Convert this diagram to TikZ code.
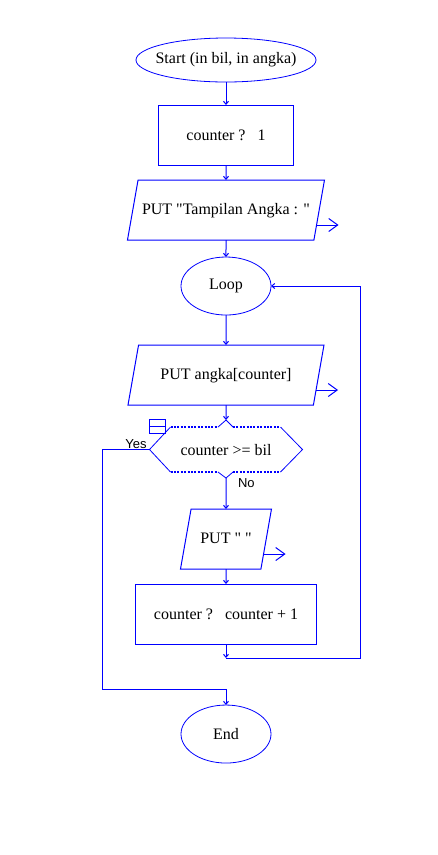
\documentclass[tikz,border=0pt]{standalone}
\usepackage{fontspec}
\setmainfont{Liberation Serif}[Ligatures=TeXOff]
\newfontfamily\branchfont{Liberation Sans}
\usetikzlibrary{arrows.meta,positioning,shapes.geometric,calc}

\tikzset{
  every node/.style={font=\fontsize{16}{19}\selectfont, outer sep=0pt},
  terminal/.style={ellipse, draw=blue, line width=0.8pt, inner sep=0pt,
    minimum width=90pt, minimum height=58pt},
  process/.style={rectangle, draw=blue, line width=1pt,
    minimum width=135pt, minimum height=60pt},
  inout/.style={trapezium, trapezium left angle=80, trapezium right angle=100,
    trapezium stretches body, draw=blue, line width=1pt,
    text height=12pt, text depth=4pt, inner ysep=22pt},
  hexside/.style={draw=blue, line width=0.8pt},
  hexdots/.style={draw=blue, line width=2pt, dash pattern=on 2pt off 1.4pt},
  flow/.style={draw=blue, line width=1pt, -{Straight Barb[length=3pt,width=5pt]}},
  output/.style={draw=blue, line width=1pt, -{Straight Barb[length=9pt,width=13pt]}},
  branch/.style={font=\branchfont\fontsize{13}{15}\selectfont, inner sep=0pt}
}

\begin{document}
\begin{tikzpicture}[x=1pt, y=1pt, node distance=15pt]
 \useasboundingbox (0,0) rectangle (438,-855);

 \node[terminal, minimum width=180pt, minimum height=44pt] (start) at (226,-60)
     {\makebox[0pt]{Start (in bil, in angka)}};
 \node[process, below=23pt of start] (init) {counter ?\ \ \ 1};
 \node[inout, minimum width=197pt, below=of init] (title) {PUT "Tampilan Angka : "};
 \node[terminal, below=17pt of title] (loop) {Loop};
 \node[inout, minimum width=196pt, below=30pt of loop] (show) {PUT angka[counter]};
 \node[minimum width=153pt, minimum height=45pt, inner sep=0pt, below=22pt of show]
     (check) {counter >= bil};
 \node[inout, minimum width=91pt, below=37pt of check] (space) {PUT " "};
 \node[process, minimum width=181pt, below=of space] (next) {counter ?\ \ \ counter + 1};
 \node[terminal, below=61pt of next] (end) {End};

 % decision outline
 \draw[hexside] ($(check.north west)+(21,0)$) -- (check.west) -- ($(check.south west)+(21,0)$);
 \draw[hexside] ($(check.north east)+(-22,0)$) -- (check.east) -- ($(check.south east)+(-22,0)$);
 \coordinate (checkin) at ($(check.north)+(0,7)$);
 \coordinate (checkout) at ($(check.south)+(0,-6)$);
 \draw[hexdots] ($(check.north west)+(21,0)$) -- ($(check.north)+(-8,0)$);
 \draw[hexdots] ($(check.north)+(7,0)$) -- ($(check.north east)+(-22,0)$);
 \draw[hexside] ($(check.north)+(-8,0)$) -- (checkin) -- ($(check.north)+(7,0)$);
 \draw[hexdots] ($(check.south west)+(21,0)$) -- ($(check.south)+(-8,0)$);
 \draw[hexdots] ($(check.south)+(7,0)$) -- ($(check.south east)+(-22,0)$);
 \draw[hexside] ($(check.south)+(-8,0)$) -- (checkout) -- ($(check.south)+(7,0)$);
 \node[draw=blue, line width=0.8pt, minimum width=16pt, minimum height=14pt,
     inner sep=0pt, anchor=north west] (icon) at ($(check.north west)+(0,8)$) {};
 \draw[hexside] (icon.west) -- (icon.east);

 % main flow
 \draw[flow] (start) -- (init);
 \draw[flow] (init) -- (title);
 \draw[flow] (title) -- (loop);
 \draw[flow] (loop) -- (show);
 \draw[flow] (show) -- (checkin);
 \draw[flow] (checkout) -- (space);
 \draw[flow] (space) -- (next);

 % loop back
 \coordinate (join) at ($(next.south)+(0,-14)$);
 \coordinate (back) at ($(join)+(134,0)$);
 \draw[flow] (next) -- (join);
 \draw[flow] (join) -- (back) |- (loop.east);

 % exit
 \coordinate (yesturn) at ($(end.north)+(-124,16)$);
 \draw[flow] (check.west) -| (yesturn) -| (end.north);
 \node[branch, anchor=base east] (yes) at ($(check.west)+(-3,1)$) {Yes};
 \node[branch, anchor=base west] (no) at ($(check.south)+(12,-15)$) {No};

 % output marks
 \coordinate (titlesrc) at ($(title.bottom right corner)!0.25!(title.top right corner)$);
 \coordinate[right=22pt of titlesrc] (titleout);
 \draw[output] (titlesrc) -- (titleout);
 \coordinate (showsrc) at ($(show.bottom right corner)!0.25!(show.top right corner)$);
 \coordinate[right=22pt of showsrc] (showout);
 \draw[output] (showsrc) -- (showout);
 \coordinate (spacesrc) at ($(space.bottom right corner)!0.25!(space.top right corner)$);
 \coordinate[right=22pt of spacesrc] (spaceout);
 \draw[output] (spacesrc) -- (spaceout);
\end{tikzpicture}
\end{document}
